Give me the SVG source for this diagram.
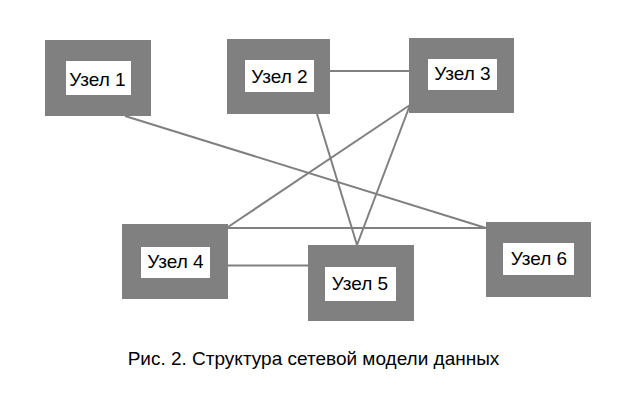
<svg xmlns="http://www.w3.org/2000/svg" width="640" height="400" viewBox="0 0 640 400">
<style>
.outer{fill:#808080}
.inner{fill:#ffffff}
.lbl{font-family:"Liberation Sans",Arial,sans-serif;font-size:19px;fill:#000;text-anchor:middle}
.cap{font-family:"Liberation Sans",Arial,sans-serif;font-size:19px;fill:#000;text-anchor:middle}
.edge{stroke:#808080;stroke-width:2;fill:none}
</style>
<rect width="640" height="400" fill="#ffffff"/>
<g id="connectors">
<line class="edge" x1="125" y1="116" x2="486" y2="228"/>
<line class="edge" x1="330" y1="71" x2="409" y2="71"/>
<line class="edge" x1="317" y1="114" x2="357" y2="245"/>
<line class="edge" x1="410" y1="105" x2="357" y2="245"/>
<line class="edge" x1="410" y1="105" x2="228" y2="227"/>
<line class="edge" x1="228" y1="228" x2="486" y2="228"/>
<line class="edge" x1="228" y1="265.5" x2="308" y2="265.5"/>
</g>
<g id="node1">
<rect class="outer" x="45" y="40" width="106" height="76"/>
<rect class="inner" x="66" y="61" width="65" height="34"/>
<text class="lbl" x="97.5" y="86">Узел 1</text>
</g>
<g id="node2">
<rect class="outer" x="227" y="39" width="103" height="75"/>
<rect class="inner" x="245" y="60" width="69" height="32"/>
<text class="lbl" x="279.5" y="83">Узел 2</text>
</g>
<g id="node3">
<rect class="outer" x="409" y="38" width="105" height="75"/>
<rect class="inner" x="428" y="59" width="69" height="31"/>
<text class="lbl" x="462.5" y="80">Узел 3</text>
</g>
<g id="node4">
<rect class="outer" x="122" y="224" width="106" height="75"/>
<rect class="inner" x="141" y="247" width="69" height="31"/>
<text class="lbl" x="175.5" y="268">Узел 4</text>
</g>
<g id="node5">
<rect class="outer" x="308" y="245" width="106" height="76"/>
<rect class="inner" x="325" y="267" width="71" height="34"/>
<text class="lbl" x="360" y="290">Узел 5</text>
</g>
<g id="node6">
<rect class="outer" x="486" y="222" width="105" height="75"/>
<rect class="inner" x="503" y="243" width="71" height="32"/>
<text class="lbl" x="539" y="265">Узел 6</text>
</g>
<text class="cap" x="313.5" y="365">Рис. 2. Структура сетевой модели данных</text>
</svg>
